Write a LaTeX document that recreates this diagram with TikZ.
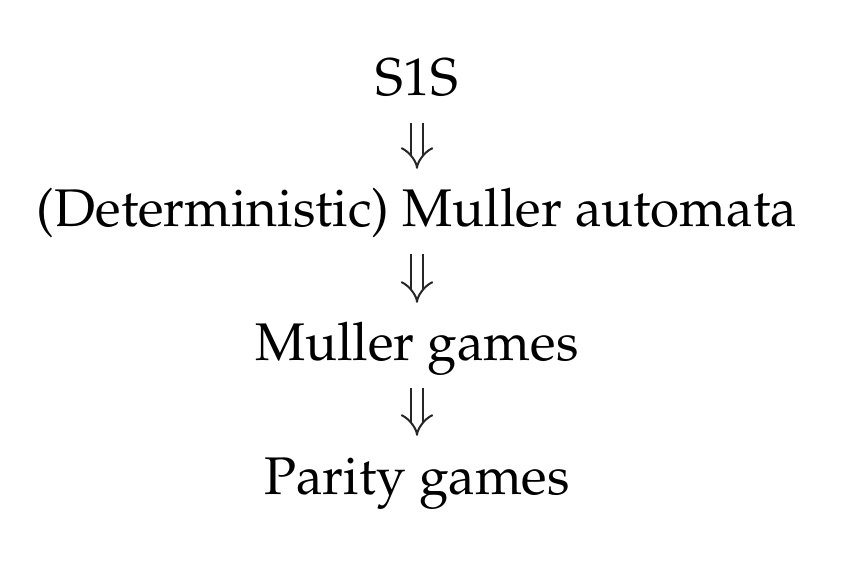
\documentclass[tikz,border=0pt]{standalone}
\usepackage[T1]{fontenc}
\usepackage{mathpazo}
\usepackage{tikz}
\usetikzlibrary{arrows.meta}
\tikzset{
  stageLbl/.style={font=\fontsize{53}{64}\selectfont, inner sep=0pt, text height=38pt, text depth=13pt, anchor=base},
  impl/.style={draw=black!85, double, line width=2pt, double distance=9.5pt, -{Implies}, shorten <=14pt, shorten >=20pt},
}

\begin{document}
\begin{tikzpicture}[x=1pt, y=-1pt]
  \useasboundingbox (0,0) rectangle (863,580);

  \node[stageLbl] (s1s)    at (417,96)  {S1S};
  \node[stageLbl] (muaut)  at (417,227) {(Deterministic) Muller automata};
  \node[stageLbl] (mugame) at (417,361) {Muller games};
  \node[stageLbl] (pagame) at (417,494) {Parity games};

  \draw[impl] (s1s.south)    -- (muaut.north);
  \draw[impl] (muaut.south)  -- (mugame.north);
  \draw[impl] (mugame.south) -- (pagame.north);
\end{tikzpicture}
\end{document}
